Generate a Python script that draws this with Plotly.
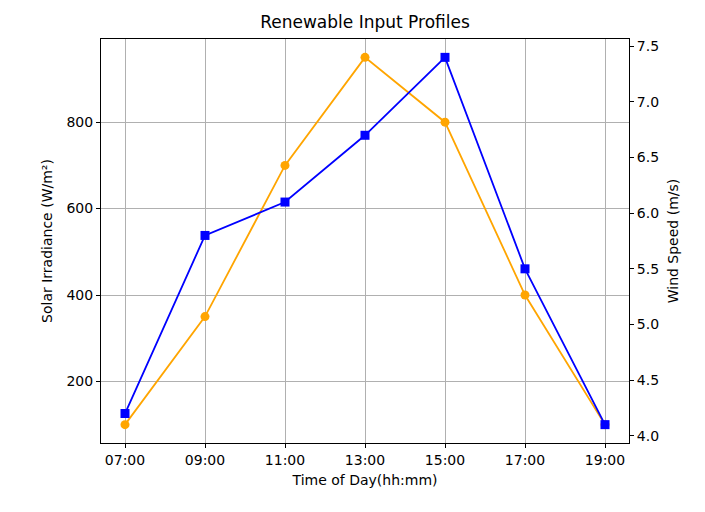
import plotly.graph_objects as go

times = ['07:00', '09:00', '11:00', '13:00', '15:00', '17:00', '19:00']
solar = [100, 350, 700, 950, 800, 400, 100]
wind = [4.2, 5.8, 6.1, 6.7, 7.4, 5.5, 4.1]
idx = list(range(len(times)))

fig = go.Figure()
fig.add_trace(go.Scatter(x=idx, y=solar, mode='lines+markers', name='Solar',
                         line=dict(color='orange', width=1.8),
                         marker=dict(symbol='circle', size=9, color='orange')))
fig.add_trace(go.Scatter(x=idx, y=wind, mode='lines+markers', name='Wind', yaxis='y2',
                         line=dict(color='blue', width=1.8),
                         marker=dict(symbol='square', size=9, color='blue')))

axis_common = dict(showline=True, linecolor='black', linewidth=1,
                   ticks='outside', ticklen=4, tickcolor='black', zeroline=False,
                   tickfont=dict(size=14, color='black'))

# page body adds ~8px offset, so margins are shifted to compensate
fig.update_layout(
    width=705, height=512,
    margin=dict(l=93, r=84, t=31, b=77),
    paper_bgcolor='white', plot_bgcolor='white',
    font=dict(family='DejaVu Sans', size=14, color='black'),
    showlegend=False,
    title=dict(text='Renewable Input Profiles', x=(93 + 621) / 2 / 705, xanchor='center',
               y=1 - 14 / 512, yanchor='middle', font=dict(size=17)),
    xaxis=dict(range=[-0.3, 6.3], tickvals=idx, ticktext=times,
               showgrid=True, gridcolor='#b0b0b0', gridwidth=1, mirror=True,
               title=dict(text='Time of Day(hh:mm)', standoff=8, font=dict(size=14)),
               **axis_common),
    yaxis=dict(range=[57.5, 992.5], tickvals=[200, 400, 600, 800],
               showgrid=True, gridcolor='#b0b0b0', gridwidth=1,
               title=dict(text='Solar Irradiance (W/m²)', standoff=10, font=dict(size=14)),
               **axis_common),
    yaxis2=dict(range=[3.935, 7.565], overlaying='y', side='right',
                tickvals=[4.0, 4.5, 5.0, 5.5, 6.0, 6.5, 7.0, 7.5], tickformat='.1f',
                showgrid=False,
                title=dict(text='Wind Speed (m/s)', standoff=10, font=dict(size=14)),
                **axis_common),
)

fig.write_html("out.html")
